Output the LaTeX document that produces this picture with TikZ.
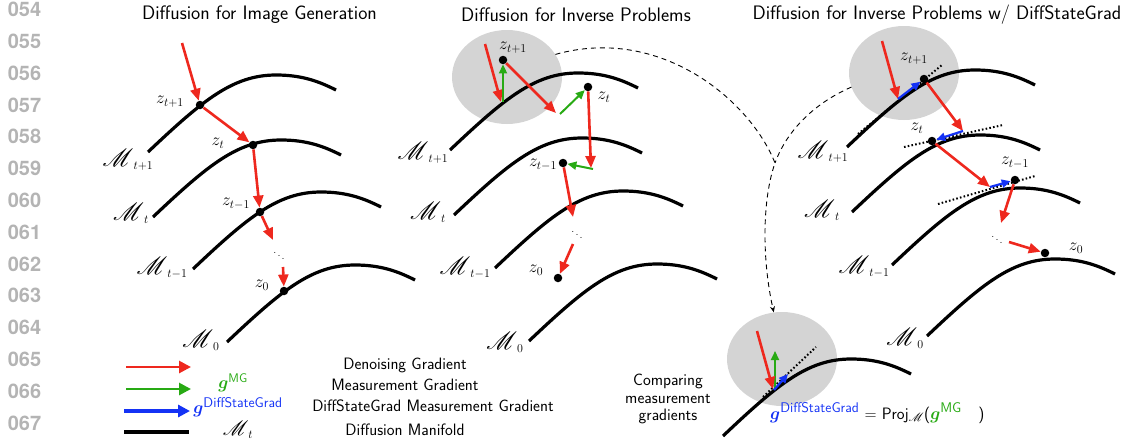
\documentclass[tikz,border=0pt]{standalone}
\usepackage{amsmath,bm,mathrsfs}
\usepackage{fontspec}
\newfontfamily\lnfont{TeX Gyre Heros}
\usetikzlibrary{arrows.meta,shapes.geometric}
\definecolor{myred}{RGB}{238,40,30}
\definecolor{mygreen}{RGB}{40,170,20}
\definecolor{myblue}{RGB}{20,50,245}
\definecolor{mygray}{RGB}{212,212,212}
\definecolor{lngray}{RGB}{180,180,180}
\newcommand{\scrM}[1]{\mathord{\text{\fontsize{#1}{#1}\selectfont$\mathscr{M}$}}}
\newcommand{\ML}[1]{$\scrM{24.88}_{#1}$}
\newcommand{\supsf}[2]{\text{\fontsize{#1}{#1}\selectfont\sffamily #2}}
\tikzset{
  mani/.style={line width=3.2pt},
  manifold/.pic={\draw[mani] (0,0) .. controls (55,-52) and (85,-77) .. (128,-77) .. controls (155,-77) and (172,-70) .. (188,-62);},
  dot/.style={circle, fill=black, inner sep=0pt, minimum size=8.5pt},
  rarr/.style={draw=myred, line width=2.6pt, -{Triangle[length=12pt,width=10pt]}},
  garr/.style={draw=mygreen, line width=2pt, -{Triangle[length=9pt,width=8pt]}},
  barr/.style={draw=myblue, line width=2.2pt, -{Triangle[length=9pt,width=8pt]}},
  lrarr/.style={draw=myred, line width=2.8pt, -{Triangle[length=12pt,width=12pt]}},
  lgarr/.style={draw=mygreen, line width=2.8pt, -{Triangle[length=12pt,width=12pt]}},
  lbarr/.style={draw=myblue, line width=3.6pt, -{Triangle[length=12pt,width=12pt]}},
  tang/.style={black, line width=2pt, dash pattern=on 1.6pt off 2.2pt},
  bubble/.style={ellipse, fill=mygray, minimum width=110pt, minimum height=94pt, inner sep=0pt},
  lab/.style={font=\fontsize{17.5}{20}\selectfont, inner sep=0pt},
  ttl/.style={font=\fontsize{19.5}{23}\selectfont\sffamily, inner sep=0pt},
  leg/.style={font=\fontsize{16.5}{17.5}\selectfont\sffamily, inner sep=0pt},
  lnum/.style={font=\fontsize{20}{22}\selectfont\lnfont\bfseries, text=lngray, inner sep=0pt},
  dsh/.style={line width=0.9pt, dash pattern=on 5pt off 4pt},
  dd/.style={font=\fontsize{11}{12}\selectfont, inner sep=0pt},
}
\begin{document}
\begin{tikzpicture}[x=1pt,y=-1pt]
\useasboundingbox (0,0) rectangle (1145,442);
% line numbers
\foreach \n [count=\k from 0] in {054,055,056,057,058,059,060,061,062,063,064,065,066,067}
  \node[lnum] (ln\n) at (24.5,{9.5+31.8*\k}) {\n};
% titles
\node[ttl] (t1) at (259.5,15) {Diffusion for Image Generation};
\node[ttl] (t2) at (576,15) {Diffusion for Inverse Problems};
\node[ttl] (t3) at (937,15) {Diffusion for Inverse Problems w/ DiffStateGrad};
% bubbles
\node[bubble] (e2) at (507,77) {};
\node[bubble] (e3) at (904,73) {};
\node[bubble] (e4) at (782,359) {};
% manifolds
\foreach \p in {(148,152),(153,217),(193,269),(227,342),
                (450,150),(454,215),(495,268),(529,341),
                (847,147),(852,212),(892,265),(927,336),(723,436)}
  \pic at \p {manifold};
% manifold labels
\node[lab] (m1a) at (128,160) {\ML{t+1}};
\node[lab] (m1b) at (131,213) {\ML{t}};
\node[lab] (m1c) at (162,268) {\ML{t-1}};
\node[lab] (m1d) at (201,340) {\ML{0}};
\node[lab] (m2a) at (423,153) {\ML{t+1}};
\node[lab] (m2b) at (428,212) {\ML{t}};
\node[lab] (m2c) at (465,268) {\ML{t-1}};
\node[lab] (m2d) at (505,342) {\ML{0}};
\node[lab] (m3a) at (823,152) {\ML{t+1}};
\node[lab] (m3b) at (822,210) {\ML{t}};
\node[lab] (m3c) at (864,267) {\ML{t-1}};
\node[lab] (m3d) at (905,338) {\ML{0}};
% ---------- panel 1
\node[dot] (a1) at (200,105) {};
\node[dot] (a2) at (253,145) {};
\node[dot] (a3) at (260,212) {};
\node[dot] (a4) at (284,291) {};
\coordinate (a0) at (182,43);
\coordinate (a3e) at (273,240);
\coordinate (a4s) at (283,267);
\node[dd] (ad) at (279,253) {$\ddots$};
\draw[rarr] (a0) -- (a1);
\draw[rarr] (a1) -- (a2);
\draw[rarr] (a2) -- (a3);
\draw[rarr] (a3) -- (a3e);
\draw[rarr] (a4s) -- (a4);
\node[lab] (za1) at (170,102) {$z_{t+1}$};
\node[lab] (za2) at (218,143) {$z_{t}$};
\node[lab] (za3) at (236,204) {$z_{t-1}$};
\node[lab] (za4) at (262,285) {$z_{0}$};
% ---------- panel 2
\node[dot] (b1) at (503,60) {};
\node[dot] (b2) at (588,87) {};
\node[dot] (b3) at (563,163) {};
\node[dot] (b4) at (558,278) {};
\coordinate (b0) at (485,44);
\coordinate (b0e) at (501,102);
\coordinate (b0g) at (503,102);
\coordinate (b1e) at (556,113);
\coordinate (b1g) at (560,114);
\coordinate (b2e) at (591,168);
\coordinate (b2g) at (593,169);
\coordinate (b3e) at (573,217);
\coordinate (b4s) at (573,244);
\node[dd] (bd) at (577,232) {$\ddots$};
\draw[rarr] (b0) -- (b0e);
\draw[garr] (b0g) -- (b1);
\draw[rarr] (b1) -- (b1e);
\draw[garr] (b1g) -- (b2);
\draw[rarr] (b2) -- (b2e);
\draw[garr] (b2g) -- (b3);
\draw[rarr] (b3) -- (b3e);
\draw[rarr] (b4s) -- (b4);
\node[lab] (zb1) at (513,48) {$z_{t+1}$};
\node[lab] (zb2) at (604,97) {$z_{t}$};
\node[lab] (zb3) at (543,165) {$z_{t-1}$};
\node[lab] (zb4) at (536,270) {$z_{0}$};
% ---------- panel 3
\draw[tang] (858,134) -- (942,65);
\draw[tang] (904,147) -- (1003,125);
\draw[tang] (938,204) -- (1035,176);
\node[dot] (c1) at (924,79) {};
\node[dot] (c2) at (932,141) {};
\node[dot] (c3) at (1015,180) {};
\node[dot] (c4) at (1045,253) {};
\coordinate (c0) at (882,41);
\coordinate (c0e) at (898,99);
\coordinate (c1e) at (963,131);
\coordinate (c2e) at (990,187);
\coordinate (c3e) at (1001,223);
\coordinate (c4s) at (1009,242);
\node[dd] (cd) at (997,237) {$\ddots$};
\draw[rarr] (c0) -- (c0e);
\draw[barr] (c0e) -- (c1);
\draw[rarr] (c1) -- (c1e);
\draw[barr] (c1e) -- (c2);
\draw[rarr] (c2) -- (c2e);
\draw[barr] (c2e) -- (c3);
\draw[rarr] (c3) -- (c3e);
\draw[rarr] (c4s) -- (c4);
\node[lab] (zc1) at (914,59) {$z_{t+1}$};
\node[lab] (zc2) at (917,128) {$z_{t}$};
\node[lab] (zc3) at (1015,163) {$z_{t-1}$};
\node[lab] (zc4) at (1076,248) {$z_{0}$};
% ---------- dashed connector
\coordinate (dj) at (775,163);
\draw[dsh, -{Stealth[length=6pt,width=5pt]}] (e2.25) .. controls (660,25) and (750,100) .. (dj) .. controls (762,200) and (762,260) .. (e4.100);
\draw[dsh] (e3.195) .. controls (810,105) and (785,135) .. (dj);
% ---------- comparison inset
\draw[tang] (763,397) -- (816,347);
\coordinate (d0) at (757,331);
\coordinate (d0e) at (773,389);
\coordinate (dgs) at (775,388);
\coordinate (dge) at (775,351);
\coordinate (dbs) at (774,390);
\coordinate (dbe) at (788,374);
\draw[garr] (dgs) -- (dge);
\draw[rarr] (d0) -- (d0e);
\draw[barr] (dbs) -- (dbe);
\node[leg, align=center] (cmp) at (668,399) {Comparing\\measurement\\gradients};
\node[leg, anchor=base west] (form) at (770,419) {\textcolor{myblue}{$\bm{g}^{\supsf{14}{DiffStateGrad}}$}\ = Proj$_{\mathscr{M}}$(\textcolor{mygreen}{$\bm{g}^{\supsf{14}{MG}}$}\quad)};
% ---------- legend
\coordinate (l1s) at (126,367); \coordinate (l1e) at (191,367);
\coordinate (l2s) at (126,389); \coordinate (l2e) at (191,389);
\coordinate (l3s) at (124,411); \coordinate (l3e) at (190,411);
\coordinate (l4s) at (124,432); \coordinate (l4e) at (189,432);
\draw[lrarr] (l1s) -- (l1e);
\draw[lgarr] (l2s) -- (l2e);
\draw[lbarr] (l3s) -- (l3e);
\draw[line width=3.2pt] (l4s) -- (l4e);
\node[leg, text=mygreen] (lg2) at (233,383) {$\bm{g}^{\supsf{12.5}{MG}}$};
\node[leg, text=myblue] (lg3) at (238,407) {$\bm{g}^{\supsf{14}{DiffStateGrad}}$};
\node[leg] (lg4) at (238,430) {$\scrM{20.74}_t$};
\node[leg] (lt1) at (405,365) {Denoising Gradient};
\node[leg] (lt2) at (405,385) {Measurement Gradient};
\node[leg] (lt3) at (433,406) {DiffStateGrad Measurement Gradient};
\node[leg] (lt4) at (405,430) {Diffusion Manifold};
\end{tikzpicture}
\end{document}
